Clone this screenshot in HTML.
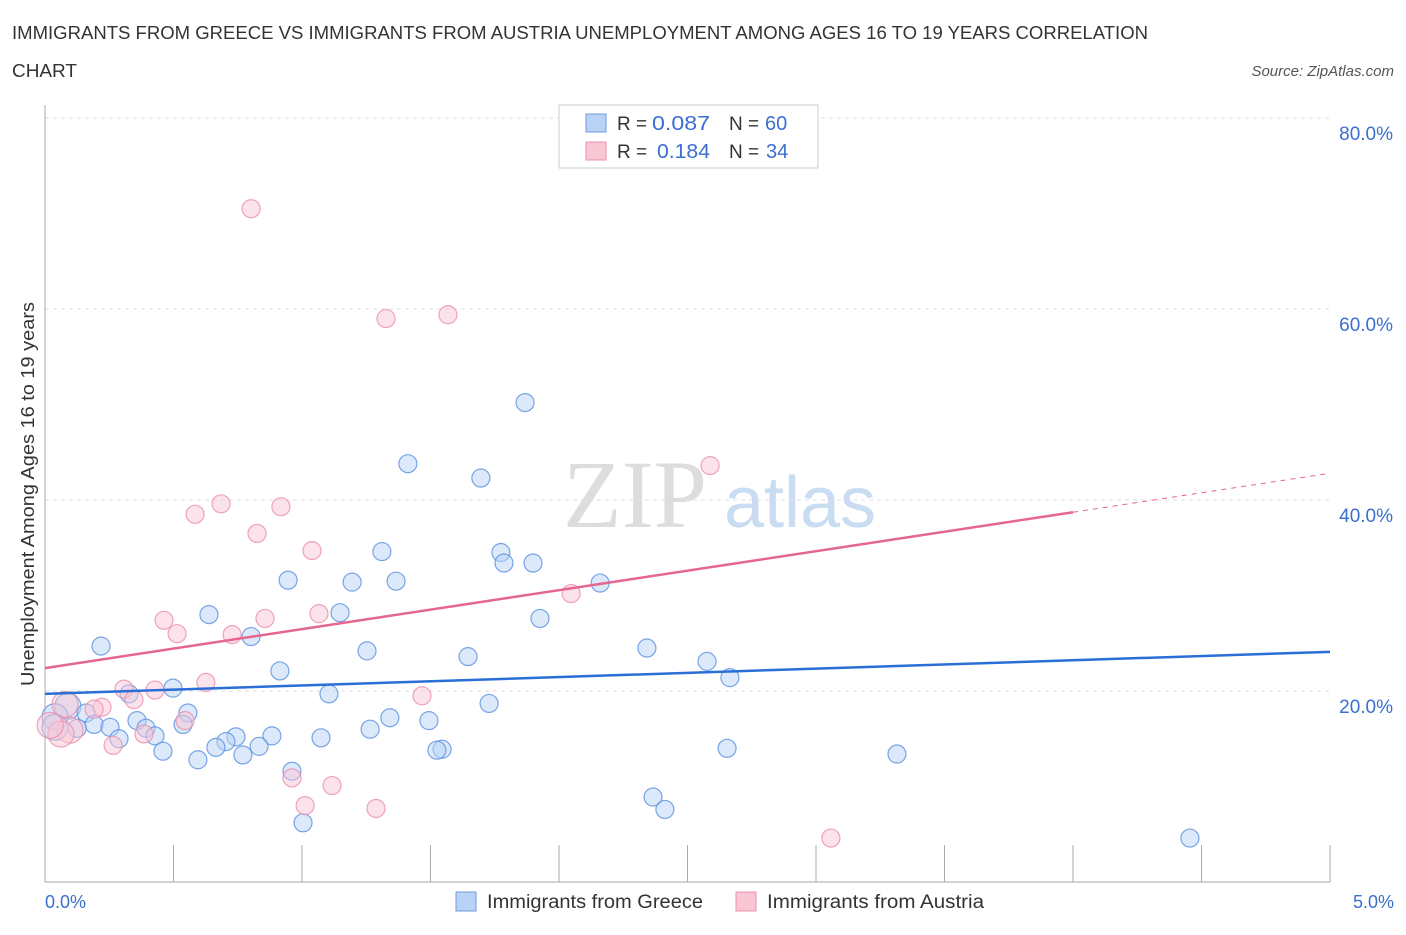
<!DOCTYPE html>
<html><head><meta charset="utf-8"><style>
body{margin:0;background:#fff;font-family:"Liberation Sans",sans-serif;}
#c{position:relative;width:1406px;height:930px;}
</style></head><body>
<div id="c">
<svg id="s" width="1406" height="930" xmlns="http://www.w3.org/2000/svg" font-family="Liberation Sans, sans-serif">
<text x="12" y="39" font-size="18" fill="#333" textLength="1136" lengthAdjust="spacingAndGlyphs">IMMIGRANTS FROM GREECE VS IMMIGRANTS FROM AUSTRIA UNEMPLOYMENT AMONG AGES 16 TO 19 YEARS CORRELATION</text>
<text x="12" y="77" font-size="18" fill="#333" textLength="65" lengthAdjust="spacingAndGlyphs">CHART</text>
<text x="1394" y="76" font-size="15" fill="#555" font-style="italic" text-anchor="end">Source: ZipAtlas.com</text>
<text x="635" y="527" font-size="96" fill="#ddd" font-family="Liberation Serif, serif" text-anchor="middle">ZIP</text>
<text x="800" y="527" font-size="72" fill="#c9dcf2" text-anchor="middle">atlas</text>
<g id="grid"></g><g id="axes"></g><g id="pts"></g><g id="trend"></g>
<text transform="translate(34,494) rotate(-90)" font-size="18" fill="#333" text-anchor="middle" textLength="384" lengthAdjust="spacingAndGlyphs">Unemployment Among Ages 16 to 19 years</text>
<text x="45" y="908" font-size="18" fill="#3a6fd0">0.0%</text>
<text x="1394" y="908" font-size="18" fill="#3a6fd0" text-anchor="end">5.0%</text>
<g>
<rect x="559" y="105" width="259" height="63" fill="#fff" stroke="#ccc"/>
<rect x="586" y="114" width="20" height="18" fill="#b8d3f5" stroke="#6f9be0"/>
<rect x="586" y="142" width="20" height="18" fill="#f9c6d5" stroke="#eb93ad"/>
<text x="617" y="130" font-size="19" fill="#333">R =</text>
<text x="652" y="130" font-size="20" fill="#3a6fd0" textLength="58" lengthAdjust="spacingAndGlyphs">0.087</text>
<text x="729" y="130" font-size="19" fill="#333">N =</text>
<text x="765" y="130" font-size="20" fill="#3a6fd0">60</text>
<text x="617" y="158" font-size="19" fill="#333">R =</text>
<text x="657" y="158" font-size="20" fill="#3a6fd0" textLength="53" lengthAdjust="spacingAndGlyphs">0.184</text>
<text x="729" y="158" font-size="19" fill="#333">N =</text>
<text x="766" y="158" font-size="20" fill="#3a6fd0">34</text>
</g>
<g>
<rect x="456" y="892" width="20" height="19" fill="#b8d3f5" stroke="#6f9be0"/>
<text x="487" y="908" font-size="19" fill="#333" textLength="216" lengthAdjust="spacingAndGlyphs">Immigrants from Greece</text>
<rect x="736" y="892" width="20" height="19" fill="#f9c6d5" stroke="#eb93ad"/>
<text x="767" y="908" font-size="19" fill="#333" textLength="217" lengthAdjust="spacingAndGlyphs">Immigrants from Austria</text>
</g>
</svg></div>
<script>
const yTicks=[20,40,60,80];
const xTicks=[0,0.5,1,1.5,2,2.5,3,3.5,4,4.5,5];
const greeceX=[1.868,1.412,1.696,1.774,1.786,1.899,1.311,2.16,0.946,1.195,1.366,1.148,1.926,0.638,0.218,0.802,1.253,2.342,1.646,2.576,0.914,2.665,0.498,1.105,0.327,1.728,0.089,0.16,0.556,0.039,0.358,1.342,1.494,0.191,0.253,0.537,0.393,0.125,1.265,0.039,0.428,0.288,0.743,0.883,1.074,0.704,0.833,0.665,1.545,1.525,2.654,0.459,0.77,0.595,3.315,0.961,2.366,2.412,1.004,4.455];
const greeceY=[50.2,43.8,42.3,34.5,33.4,33.4,34.6,31.3,31.6,31.4,31.5,28.2,27.6,28.0,24.7,25.7,24.2,24.5,23.6,23.1,22.1,21.4,20.3,19.7,19.7,18.7,18.4,17.7,17.7,17.3,16.9,17.2,16.9,16.5,16.2,16.5,16.1,16.1,16.0,16.2,15.3,15.0,15.2,15.3,15.1,14.7,14.2,14.1,13.9,13.8,14.0,13.7,13.3,12.8,13.4,11.6,8.9,7.6,6.2,4.6];
const austriaX=[0.802,1.327,1.568,2.588,0.685,0.584,0.918,0.825,1.039,2.047,0.463,0.856,1.066,0.514,0.728,0.626,0.307,0.428,1.467,0.346,0.078,0.222,0.191,0.545,0.097,0.062,0.385,0.265,0.961,1.117,1.012,1.288,3.058,0.02];
const austriaY=[70.5,59.0,59.4,43.6,39.6,38.5,39.3,36.5,34.7,30.2,27.4,27.6,28.1,26.0,25.9,20.9,20.2,20.1,19.5,19.1,18.6,18.3,18.1,16.9,15.9,15.5,15.5,14.3,10.9,10.1,8.0,7.7,4.6,16.4];
const greeceTrend=[19.7,24.1];
const austriaTrend=[22.4,42.8];
const austriaSolidEnd=4.0;
const NS='http://www.w3.org/2000/svg';
const X=v=>45+v*257, Y=v=>882-v*9.55;
function mk(t,a,p){const e=document.createElementNS(NS,t);for(const k in a)e.setAttribute(k,a[k]);document.getElementById(p).appendChild(e);return e;}
yTicks.forEach(t=>{
 const l=mk('line',{x1:45,x2:1330,y1:Y(t),y2:Y(t),stroke:'#ddd','stroke-dasharray':'4,4'},'grid');
 
 
 const tx=mk('text',{x:1393,y:Y(t)+22,'font-size':19,fill:'#3a6fd0','text-anchor':'end'},'grid');
 tx.textContent=t.toFixed(1)+'%';
 
 
});
const ax=mk('line',{x1:45,x2:1330,y1:882,y2:882,stroke:'#aaa'},'axes');


const ay=mk('line',{x1:45,x2:45,y1:105,y2:882,stroke:'#aaa'},'axes');


xTicks.forEach(t=>{
 const l=mk('line',{x1:X(t),x2:X(t),y1:845,y2:882,stroke:'#aaa'},'axes');
 
 
});
function pts(xs,ys,fill,stroke,name){
 xs.forEach((x,i)=>{
  const big=(x<0.1&&ys[i]>15&&ys[i]<19)?13:9;
  const c=mk('circle',{cx:X(x),cy:Y(ys[i]),r:big,fill:fill,'fill-opacity':0.5,stroke:stroke,'stroke-opacity':0.8,'stroke-width':1.2},'pts');
  
  
 });
}
pts(greeceX,greeceY,'#b8d3f5','#5a8fe0','greece-point');
pts(austriaX,austriaY,'#f9c6d5','#eb8fab','austria-point');
const bl=mk('line',{x1:X(0),y1:Y(greeceTrend[0]),x2:X(5),y2:Y(greeceTrend[1]),stroke:'#2a6fd6','stroke-width':2.5},'trend');


const ya=v=>austriaTrend[0]+(austriaTrend[1]-austriaTrend[0])*v/5;
const pl=mk('line',{x1:X(0),y1:Y(ya(0)),x2:X(austriaSolidEnd),y2:Y(ya(austriaSolidEnd)),stroke:'#e5668e','stroke-width':2.5},'trend');


const pd=mk('line',{x1:X(austriaSolidEnd),y1:Y(ya(austriaSolidEnd)),x2:X(5),y2:Y(ya(5)),stroke:'#e5668e','stroke-width':1,'stroke-dasharray':'5,5'},'trend');


</script>
</body></html>
